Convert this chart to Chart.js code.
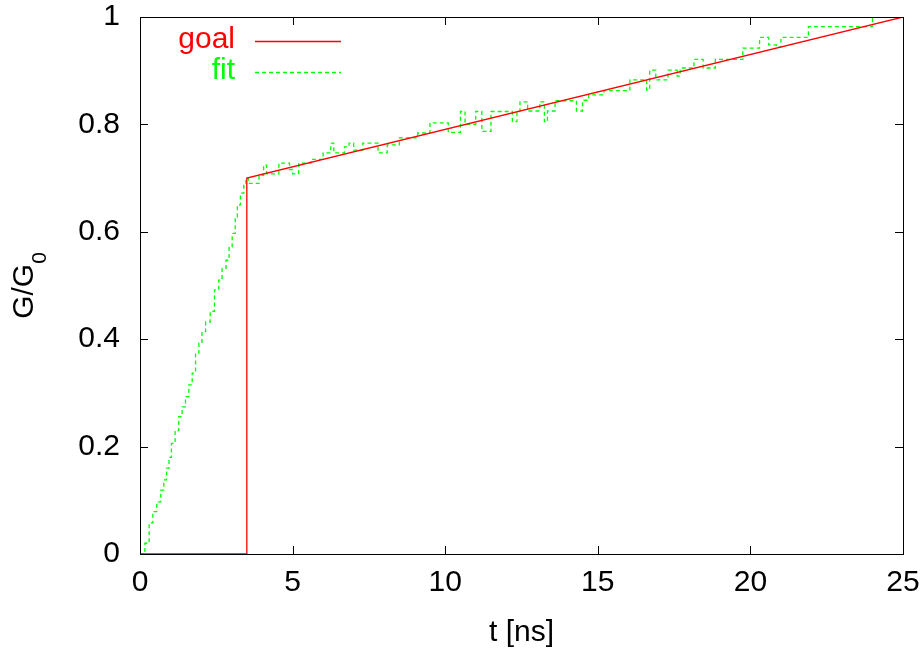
<!DOCTYPE html>
<html>
<head>
<meta charset="utf-8">
<script src="https://cdn.jsdelivr.net/npm/chart.js@4/dist/chart.umd.min.js"></script>
<style>
  html, body { margin: 0; padding: 0; background: #fff; }
  #c { display: block; }
</style>
</head>
<body>
<canvas id="c" width="921" height="651"></canvas>
<script>
// ---- data ----
const xTicks = [0, 5, 10, 15, 20, 25];
const yTicks = [0, 0.2, 0.4, 0.6, 0.8, 1];

const goalT = [0, 3.5, 3.5, 25];
const goalG = [0, 0, 0.7, 1.0];

const fitT = [
  0.0, 0.16, 0.3, 0.42, 0.55, 0.68, 0.78, 0.87, 0.95, 1.03,
  1.15, 1.27, 1.38, 1.49, 1.6, 1.71, 1.82, 1.93, 2.03, 2.15,
  2.3, 2.44, 2.58, 2.69, 2.82, 2.92, 3.02, 3.12, 3.19, 3.29,
  3.4, 3.47, 3.55, 3.9, 4.05, 4.15, 4.55, 4.9, 5.0, 5.2,
  5.6, 6.0, 6.25, 6.35, 6.7, 6.85, 7.0, 7.3, 7.8, 8.1,
  8.5, 9.1, 9.5, 10.1, 10.5, 10.65, 11.0, 11.2, 11.5, 12.2,
  12.35, 12.45, 12.7, 13.1, 13.25, 13.35, 13.6, 14.3, 14.5, 14.7,
  15.2, 15.5, 16.05, 16.6, 16.7, 16.9, 17.3, 17.6, 17.7, 18.15,
  18.45, 18.85, 19.75, 20.3, 20.6, 20.85, 21.0, 21.9, 24.0, 25.0
];
const fitG = [
  0.0, 0.02, 0.058, 0.079, 0.097, 0.119, 0.138, 0.16, 0.18, 0.206,
  0.23, 0.256, 0.274, 0.293, 0.315, 0.337, 0.374, 0.393, 0.414, 0.432,
  0.452, 0.492, 0.51, 0.532, 0.547, 0.572, 0.597, 0.628, 0.65, 0.672,
  0.69, 0.70, 0.69, 0.705, 0.724, 0.708, 0.728, 0.716, 0.708, 0.728,
  0.735, 0.747, 0.765, 0.747, 0.758, 0.765, 0.752, 0.765, 0.747, 0.762,
  0.775, 0.784, 0.803, 0.785, 0.824, 0.80, 0.824, 0.787, 0.824, 0.805,
  0.824, 0.842, 0.825, 0.842, 0.805, 0.825, 0.844, 0.825, 0.845, 0.855,
  0.863, 0.863, 0.883, 0.864, 0.901, 0.883, 0.901, 0.89, 0.905, 0.921,
  0.905, 0.921, 0.942, 0.962, 0.948, 0.944, 0.962, 0.982, 1.0, 1.0
];

const FONT = 'Liberation Sans, Arial, Helvetica, sans-serif';
const FS = 30;

const decor = {
  id: 'decor',
  afterDatasetsDraw(chart) {
    const ctx = chart.ctx;
    const a = chart.chartArea;
    const xs = chart.scales.x, ys = chart.scales.y;
    ctx.save();
    // frame
    ctx.strokeStyle = '#000';
    ctx.lineWidth = 1;
    ctx.strokeRect(Math.round(a.left) + 0.5, Math.round(a.top) + 0.5,
                   Math.round(a.right - a.left), Math.round(a.bottom - a.top));
    // inward ticks, mirrored
    const TL = 8;
    ctx.beginPath();
    xTicks.forEach(v => {
      const px = Math.round(xs.getPixelForValue(v)) + 0.5;
      ctx.moveTo(px, a.bottom); ctx.lineTo(px, a.bottom - TL);
      ctx.moveTo(px, a.top); ctx.lineTo(px, a.top + TL);
    });
    yTicks.forEach(v => {
      const py = Math.round(ys.getPixelForValue(v)) + 0.5;
      ctx.moveTo(a.left, py); ctx.lineTo(a.left + TL, py);
      ctx.moveTo(a.right, py); ctx.lineTo(a.right - TL, py);
    });
    ctx.stroke();

    // legend
    ctx.font = FS + 'px ' + FONT;
    ctx.textAlign = 'right';
    ctx.textBaseline = 'middle';
    ctx.fillStyle = '#ff0000';
    ctx.fillText(chart.data.datasets[0].label, 235, 40);
    ctx.fillStyle = '#00ff00';
    ctx.fillText(chart.data.datasets[1].label, 235, 71);
    ctx.lineWidth = 1.3;
    ctx.strokeStyle = '#ff0000';
    ctx.beginPath(); ctx.moveTo(255, 41.5); ctx.lineTo(341, 41.5); ctx.stroke();
    ctx.strokeStyle = '#00ff00';
    ctx.setLineDash([4, 3]);
    ctx.beginPath(); ctx.moveTo(255, 72.5); ctx.lineTo(341, 72.5); ctx.stroke();
    ctx.setLineDash([]);

    // x title
    ctx.fillStyle = '#000';
    ctx.textAlign = 'center';
    ctx.textBaseline = 'middle';
    ctx.font = FS + 'px ' + FONT;
    ctx.fillText('t [ns]', (a.left + a.right) / 2, 633);

    // y title with subscript
    ctx.save();
    ctx.translate(33, (a.top + a.bottom) / 2);
    ctx.rotate(-Math.PI / 2);
    ctx.textAlign = 'left';
    ctx.textBaseline = 'alphabetic';
    ctx.font = FS + 'px ' + FONT;
    const w1 = ctx.measureText('G/G').width;
    ctx.font = '21px ' + FONT;
    const w2 = ctx.measureText('0').width;
    const start = -(w1 + w2) / 2;
    ctx.font = FS + 'px ' + FONT;
    ctx.fillText('G/G', start, 0);
    ctx.font = '21px ' + FONT;
    ctx.fillText('0', start + w1, 13);
    ctx.restore();

    ctx.restore();
  }
};

new Chart(document.getElementById('c'), {
  type: 'scatter',
  data: {
    datasets: [
      {
        label: 'goal',
        data: goalT.map((t, i) => ({ x: t, y: goalG[i] })),
        showLine: true,
        borderColor: '#ff0000',
        borderWidth: 1.3,
        pointRadius: 0,
        fill: false,
        order: 0
      },
      {
        label: 'fit',
        data: fitT.map((t, i) => ({ x: t, y: fitG[i] })),
        showLine: true,
        stepped: true,
        borderColor: '#00ff00',
        borderDash: [4, 3],
        borderWidth: 1.3,
        pointRadius: 0,
        fill: false,
        order: 1
      }
    ]
  },
  options: {
    responsive: false,
    animation: false,
    devicePixelRatio: 1,
    layout: { padding: { top: 17, right: 18, left: 0, bottom: 0 } },
    plugins: { legend: { display: false }, tooltip: { enabled: false } },
    scales: {
      x: {
        type: 'linear', min: 0, max: 25,
        afterBuildTicks(s) { s.ticks = xTicks.map(v => ({ value: v })); },
        ticks: { color: '#000', font: { family: FONT, size: FS }, padding: 11, maxRotation: 0,
                 callback: v => String(v) },
        grid: { display: false, drawTicks: false },
        border: { display: false },
        afterFit(s) { s.height = 97; s.paddingLeft = 0; s.paddingRight = 0; }
      },
      y: {
        type: 'linear', min: 0, max: 1,
        afterBuildTicks(s) { s.ticks = yTicks.map(v => ({ value: v })); },
        ticks: { color: '#000', font: { family: FONT, size: FS }, padding: 20,
                 callback: v => String(v) },
        grid: { display: false, drawTicks: false },
        border: { display: false },
        afterFit(s) { s.width = 140; s.paddingTop = 0; s.paddingBottom = 0; }
      }
    }
  },
  plugins: [decor]
});
</script>
</body>
</html>
